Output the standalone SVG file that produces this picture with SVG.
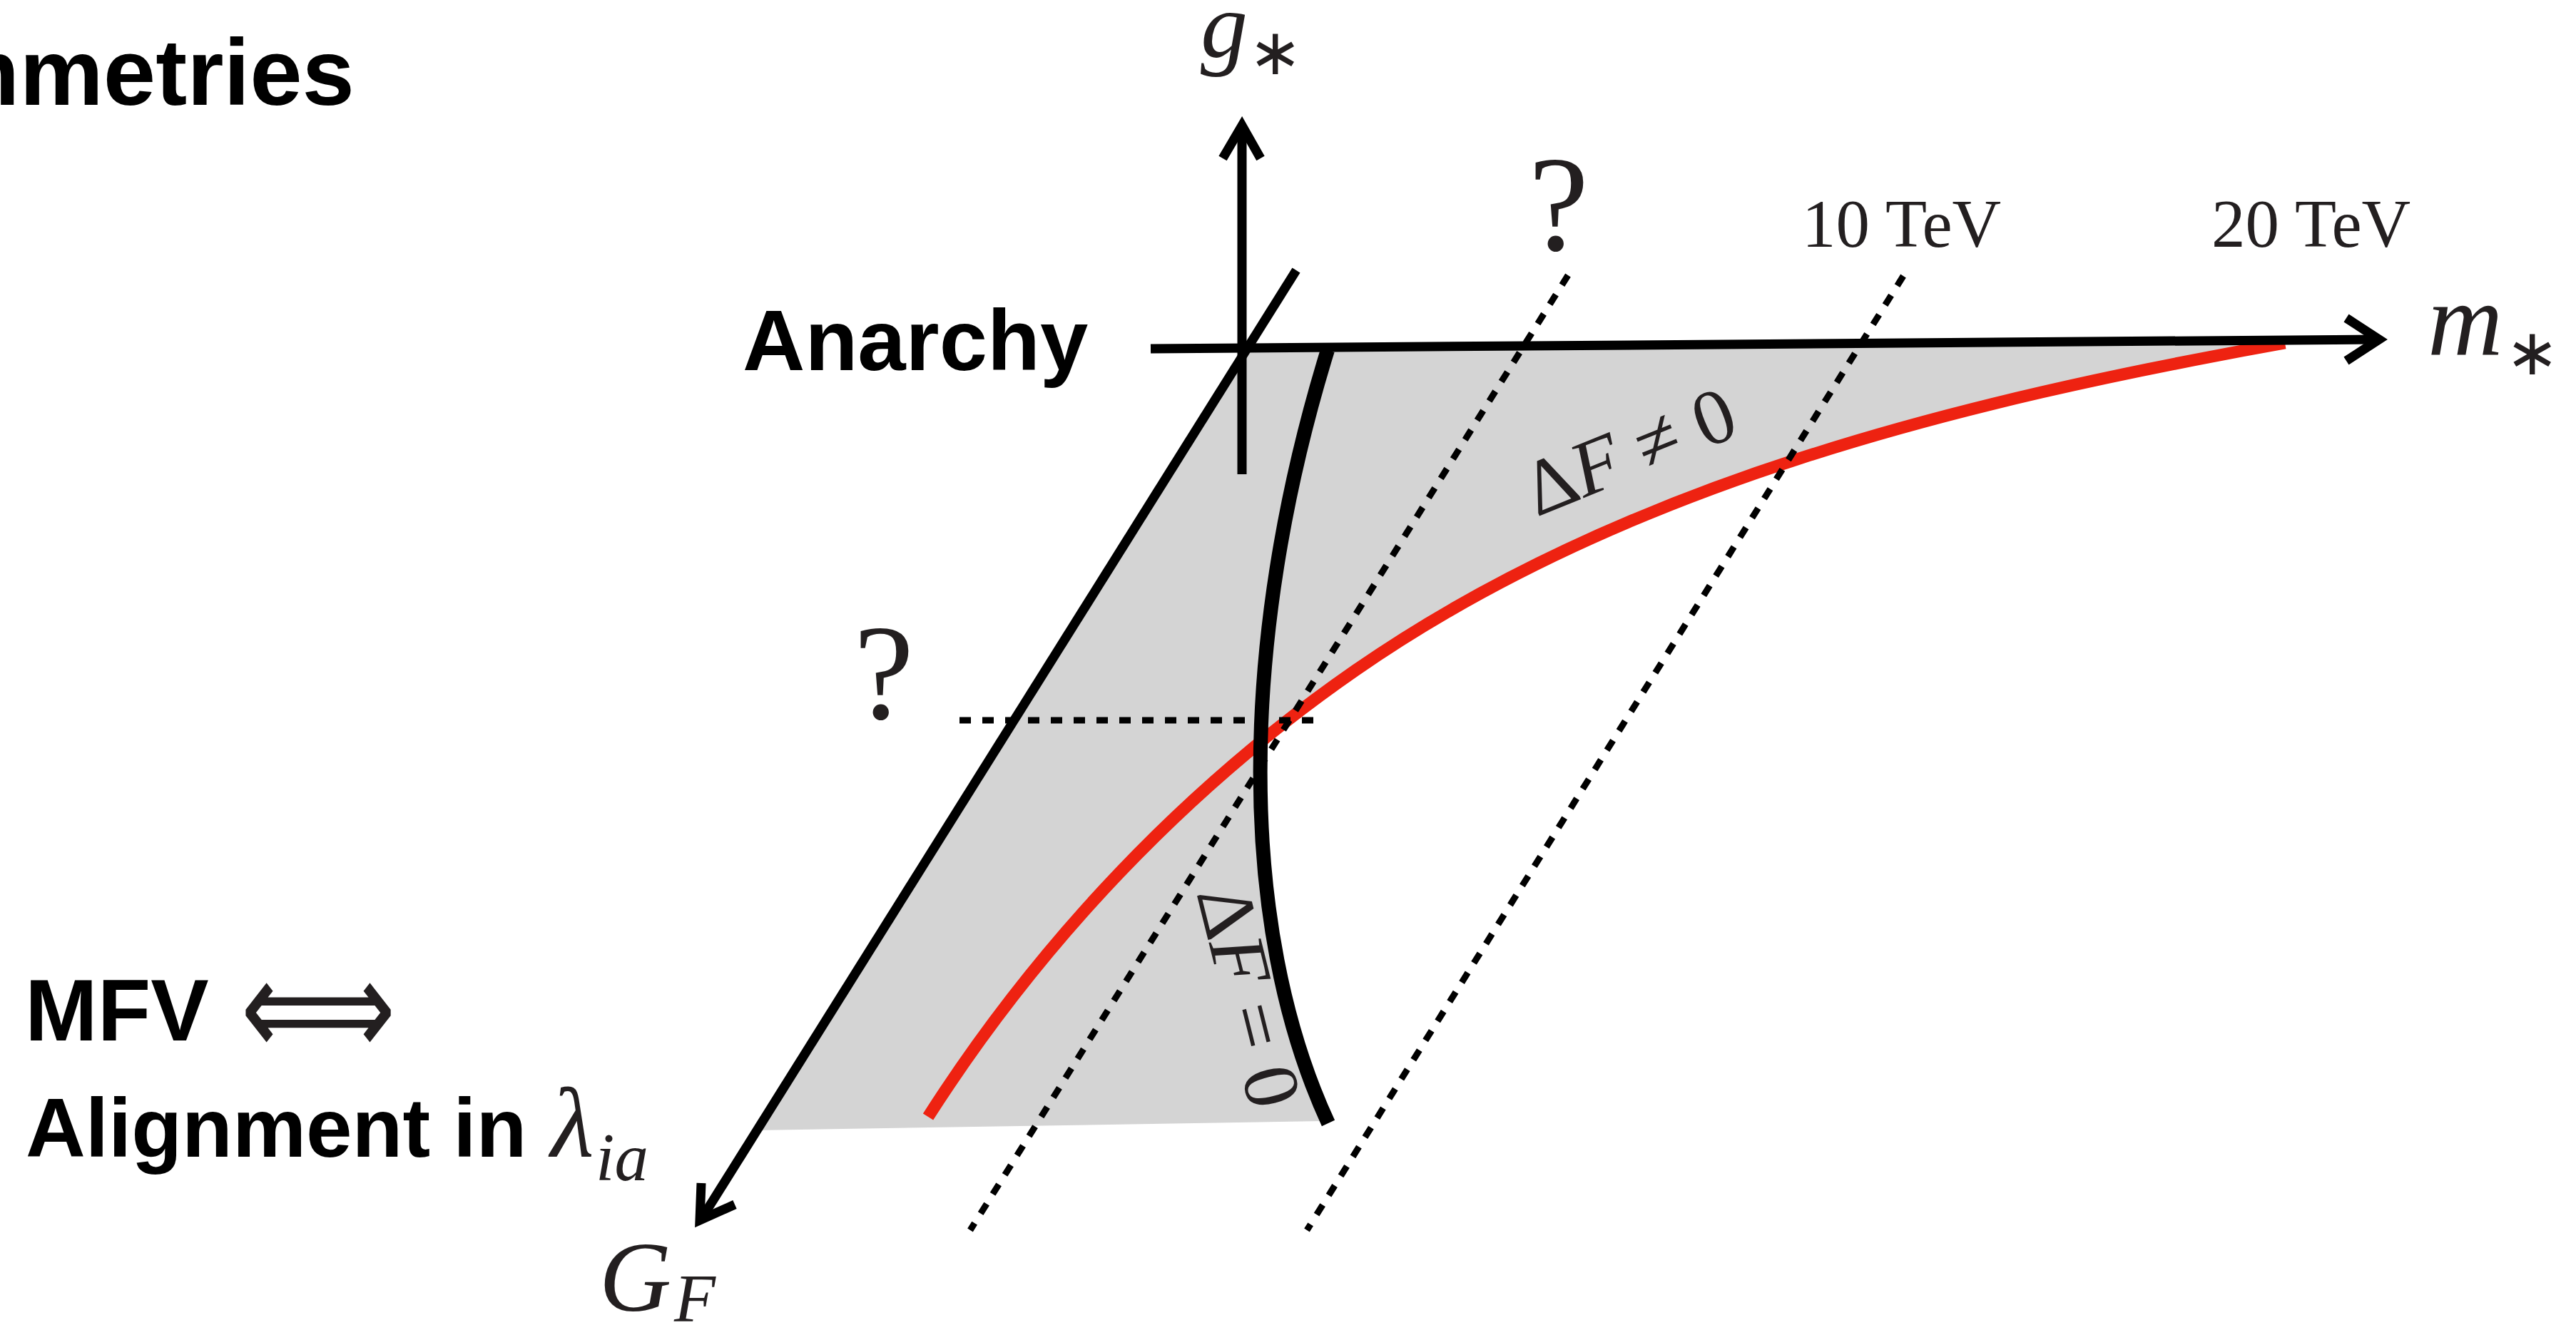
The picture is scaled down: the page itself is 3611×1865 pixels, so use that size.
<svg xmlns="http://www.w3.org/2000/svg" width="3611" height="1865" viewBox="0 0 3611 1865">
<style>
.bold{font-family:"Liberation Sans",Arial,sans-serif;font-weight:bold;fill:#000}
.math{font-family:"Liberation Serif","Times New Roman",serif;fill:#231f20}
.it{font-style:italic}
.star{font-family:"DejaVu Sans",sans-serif;fill:#231f20}
.ax{stroke:#000;stroke-width:13;fill:none;stroke-linejoin:miter}
.dot{stroke:#000;stroke-width:9;stroke-dasharray:16 16;fill:none}
</style>
<rect width="3611" height="1865" fill="#fff"/>
<g id="region">
<path d="M1748,489 L3203,479 C2751,562 2277,678 1900,940 L1765,1045 C1762,1250 1800,1450 1862,1575 L1855,1572 L1060,1585 Z" fill="#d4d4d4"/>
</g>
<g id="connectors">
<path id="red-curve" d="M3203,481 C2751,562 2277,678 1900,940 C1662,1105 1457,1322 1301,1566" stroke="#ee2211" stroke-width="17" fill="none"/>
<path id="dotted-h" class="dot" d="M1345,1010 H1845"/>
<path id="dotted-q" class="dot" d="M2198,386 L1360,1725"/>
<path id="dotted-10" class="dot" d="M2668,387 L1832,1725"/>
<path id="black-curve" d="M1861,491 C1735,900 1735,1300 1862,1575" stroke="#000" stroke-width="20" fill="none"/>
<g id="axis-g">
<path class="ax" d="M1741,665 V180"/>
<polyline class="ax" points="1714,222 1741,176 1767,222"/>
</g>
<g id="axis-m">
<path class="ax" d="M1613,489 L3330,476"/>
<polyline class="ax" stroke-width="15" points="3289,446 3335,476 3289,506"/>
</g>
<g id="axis-G">
<path class="ax" d="M1817,379 L984,1708"/>
<polyline class="ax" points="983,1659 981,1711 1030,1689"/>
</g>
</g>
<g id="title"><text class="bold" x="497" y="147" font-size="132" text-anchor="end">Symmetries</text></g>
<g id="anarchy"><text class="bold" x="1041" y="519" font-size="121">Anarchy</text></g>
<g id="mfv">
<text class="bold" x="35" y="1459" font-size="122">MFV</text>
<text class="star" x="337" y="1481" font-size="195" textLength="218" lengthAdjust="spacingAndGlyphs">⟺</text>
</g>
<g id="alignment">
<text class="bold" x="36" y="1622" font-size="116">Alignment in</text>
<text class="math it" x="772" y="1622" font-size="140">λ</text>
<text class="math it" x="835" y="1655" font-size="95">ia</text>
</g>
<g id="label-GF">
<text class="math it" x="840" y="1838" font-size="140">G</text>
<text class="math it" x="945" y="1853" font-size="95">F</text>
</g>
<g id="label-g">
<text class="math it" x="1683" y="80" font-size="132">g</text>
<text class="star" x="1750" y="104" font-size="90">∗</text>
</g>
<g id="label-m">
<text class="math it" x="3403" y="498" font-size="146">m</text>
<text class="star" x="3512" y="525" font-size="90">∗</text>
</g>
<g id="q-top"><text class="math" x="2185" y="350" font-size="190" text-anchor="middle">?</text></g>
<g id="q-left"><text class="math" x="1239" y="1007" font-size="190" text-anchor="middle">?</text></g>
<g id="tev10"><text class="math" x="2526" y="346" font-size="95">10 TeV</text></g>
<g id="tev20"><text class="math" x="3100" y="346" font-size="95">20 TeV</text></g>
<g id="df-neq"><text class="math" transform="translate(2154,725) rotate(-22)" font-size="110" textLength="310" lengthAdjust="spacingAndGlyphs">Δ<tspan class="it">F</tspan> ≠ 0</text></g>
<g id="df-eq"><text class="math" transform="translate(1677,1252) rotate(76)" font-size="110" textLength="317" lengthAdjust="spacingAndGlyphs">Δ<tspan class="it">F</tspan> = 0</text></g>
</svg>
